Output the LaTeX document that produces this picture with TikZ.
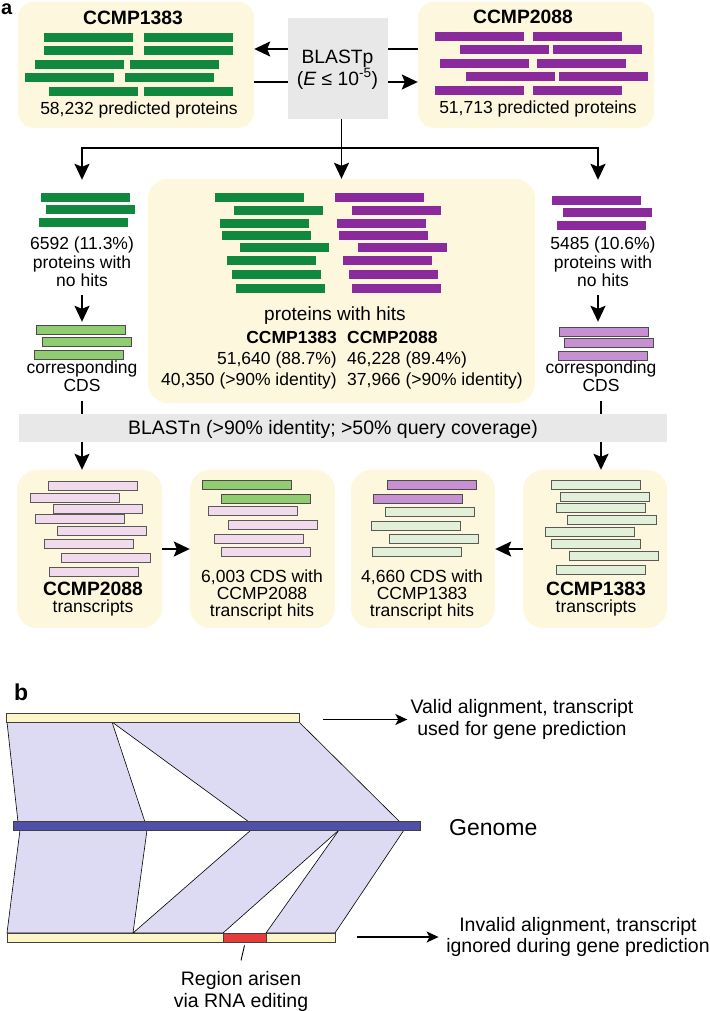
\documentclass[tikz,border=0pt]{standalone}
\usepackage{fontspec}
\setmainfont{Liberation Sans}
\usepackage{tikz}
\usetikzlibrary{positioning,arrows.meta}
\definecolor{boxyellow}{RGB}{252,247,221}
\definecolor{blastgrey}{RGB}{232,232,232}
\definecolor{protgreen}{RGB}{16,137,62}
\definecolor{protpurple}{RGB}{139,42,157}
\definecolor{cdsgreen}{RGB}{144,204,112}
\definecolor{cdspurple}{RGB}{198,144,210}
\definecolor{trpink}{RGB}{240,218,236}
\definecolor{trgreen}{RGB}{226,240,218}
\definecolor{bandlav}{RGB}{221,218,243}
\definecolor{genomeblue}{RGB}{80,80,168}
\definecolor{trbar}{RGB}{251,245,200}
\definecolor{editred}{RGB}{230,60,60}

\newcommand\txtmain{\fontsize{17.5pt}{18.5pt}\selectfont}
\newcommand\txtbig{\fontsize{19.3pt}{20pt}\selectfont}
\newcommand\txtb{\fontsize{19.5pt}{21.5pt}\selectfont}
\newcommand\txtgenome{\fontsize{23pt}{26pt}\selectfont}
\newcommand\drawbars[2]{\foreach \bx/\by in {#2} \draw[#1] (\bx,\by) rectangle ++(89,9);}

\begin{document}
\begin{tikzpicture}[x=1pt, y=-1pt, font=\txtmain,
    ybox/.style={fill=boxyellow, rounded corners=16pt, inner sep=0pt},
    gbox/.style={fill=blastgrey, inner sep=0pt},
    grp/.style={inner sep=0pt},
    lbl/.style={align=center, inner sep=0pt},
    flow/.style={line width=1.8pt, -{Stealth[length=16pt,width=15pt,inset=3pt]}},
    link/.style={line width=1.8pt},
    note/.style={line width=1.3pt, -{Stealth[length=12pt,width=11pt,inset=3pt]}},
    greenbar/.style={fill=protgreen, draw=none},
    purplebar/.style={fill=protpurple, draw=none},
    cdsgbar/.style={fill=cdsgreen, draw=black!70, line width=0.8pt},
    cdspbar/.style={fill=cdspurple, draw=black!70, line width=0.8pt},
    pinkbar/.style={fill=trpink, draw=black!65, line width=0.8pt},
    palebar/.style={fill=trgreen, draw=black!65, line width=0.8pt},
    band/.style={fill=bandlav, draw=black, line width=0.6pt},
    seqbar/.style={draw=black!75, line width=0.8pt, inner sep=0pt}]
    \useasboundingbox (0,0) rectangle (709,1011);

    % panel a
    \node[anchor=base west, inner sep=0pt, font=\fontsize{20pt}{20pt}\selectfont\bfseries] (pa) at (1,15) {a};

    \node[ybox, minimum width=236pt, minimum height=126pt] (p1383) at (136,65) {};
    \node[gbox, minimum width=100pt, minimum height=101pt] (blastp) at (338,68.5) {};
    \node[ybox, minimum width=236pt, minimum height=126pt] (p2088) at (536,65) {};
    \node[ybox, rounded corners=20pt, minimum width=387pt, minimum height=224pt] (hits) at (341.5,291) {};
    \node[gbox, minimum width=648pt, minimum height=28pt] (blastn) at (343,428) {};
    \node[ybox, rounded corners=20pt, minimum width=145pt, minimum height=158pt] (tr2088) at (89.5,549) {};
    \node[ybox, rounded corners=20pt, minimum width=145pt, minimum height=158pt] (cds2088) at (262.5,549) {};
    \node[ybox, rounded corners=20pt, minimum width=144pt, minimum height=158pt] (cds1383) at (423,549) {};
    \node[ybox, rounded corners=20pt, minimum width=144pt, minimum height=158pt] (tr1383) at (595,549) {};

    \drawbars{greenbar}{44/33,144/33,44/46,144/46,35/60,130/60,25/73,125/73,49/87,144/87}
    \drawbars{purplebar}{435/32,533/32,460/45,553/45,440/59,537/59,466/72,559/72,435/86,533/86}
    \drawbars{greenbar}{215/193,234/206,220/219,222/231,240/243,227/256,232/270,236/284}
    \drawbars{purplebar}{335/193,352/206,337/219,339/231,358/243,343/256,349/270,352/284}
    \drawbars{greenbar}{41/193,46/205,39/218}
    \drawbars{cdsgbar}{36/325,42/337,34/350}
    \drawbars{purplebar}{552/196,563/208,557/221}
    \drawbars{cdspbar}{559/327,564/338,558/351}
    \drawbars{pinkbar}{48/481,30/493,53/504,35/514,57/526,44/539,61/553,49/567}
    \drawbars{cdsgbar}{202/480,221/494}
    \drawbars{pinkbar}{208/506,228/520,214/534,221/547}
    \drawbars{cdspbar}{387/480,373/494}
    \drawbars{palebar}{385/507,371/521,389/534,372/547}
    \drawbars{palebar}{551/480,560/492,556/503,567/515,545/527,551/539,569/551,556/565}

    \node[anchor=base, inner sep=0pt, font=\txtbig\bfseries] (t1383) at (133,25) {CCMP1383};
    \node[anchor=base, inner sep=0pt] (n1383) at (139,115) {58,232 predicted proteins};
    \node[anchor=base, inner sep=0pt, font=\txtbig\bfseries] (t2088) at (523,24) {CCMP2088};
    \node[anchor=base, inner sep=0pt] (n2088) at (538,114) {51,713 predicted proteins};
    \node[lbl, font=\fontsize{19.3pt}{17pt}\selectfont] (blastptxt) at (337.5,69.5) {BLASTp\\(\textit{E} ≤ 10\textsuperscript{-5})};

    \draw[link] ([yshift=16pt]p2088.west) -- ([yshift=16pt]p2088.west -| blastp.east);
    \draw[flow] ([yshift=16pt]p1383.east -| blastp.west) -- ([yshift=16pt]p1383.east);
    \draw[link] ([yshift=-17pt]p1383.east) -- ([yshift=-17pt]p1383.east -| blastp.west);
    \draw[flow] ([yshift=-17pt]p2088.west -| blastp.east) -- ([yshift=-17pt]p2088.west);

    \coordinate (split) at (341.5,148);
    \node[grp, minimum width=100pt, minimum height=48pt] (protL) at (82,204) {};
    \node[grp, minimum width=100pt, minimum height=48pt] (protR) at (598,204) {};
    \draw[flow] (blastp.south -| split) -- (hits.north);
    \draw[flow] (split) -| (protL.north);
    \draw[flow] (split) -| (protR.north);

    \node[lbl] (noL) at (82,262) {6592 (11.3\%)\\proteins with\\no hits};
    \node[grp, minimum width=100pt, minimum height=38pt] (cdsL) at (82,341) {};
    \node[lbl] (cdsLtxt) at (82,376) {corresponding\\CDS};
    \node[lbl] (noR) at (603,262) {5485 (10.6\%)\\proteins with\\no hits};
    \node[grp, minimum width=100pt, minimum height=38pt] (cdsR) at (598,341) {};
    \node[lbl] (cdsRtxt) at (601,376) {corresponding\\CDS};

    \draw[flow] ([yshift=-8pt]noL.south) -- (cdsL.north);
    \draw[flow] ([yshift=-8pt]noR.south -| cdsR.north) -- (cdsR.north);
    \draw[link] ([yshift=-9pt]cdsLtxt.south) -- (cdsLtxt.south |- blastn.north);
    \draw[link] ([yshift=-9pt]cdsRtxt.south) -- (cdsRtxt.south |- blastn.north);
    \draw[flow] (blastn.south -| cdsLtxt.south) -- (tr2088.north -| cdsLtxt.south);
    \draw[flow] (blastn.south -| cdsRtxt.south) -- (tr1383.north -| cdsRtxt.south);

    \node[anchor=base, inner sep=0pt, font=\fontsize{19pt}{19pt}\selectfont] (hitstxt) at (335,320) {proteins with hits};
    \node[anchor=base east, inner sep=0pt, font=\txtmain\bfseries] (h1383) at (337,343) {CCMP1383};
    \node[anchor=base east, inner sep=0pt] (c1383a) at (337,364) {51,640 (88.7\%)};
    \node[anchor=base east, inner sep=0pt] (c1383b) at (337,385) {40,350 (>90\% identity)};
    \node[anchor=base west, inner sep=0pt, font=\txtmain\bfseries] (h2088) at (347,343) {CCMP2088};
    \node[anchor=base west, inner sep=0pt] (c2088a) at (347,364) {46,228 (89.4\%)};
    \node[anchor=base west, inner sep=0pt] (c2088b) at (347,385) {37,966 (>90\% identity)};

    \node[anchor=base, inner sep=0pt, font=\fontsize{19.5pt}{20pt}\selectfont] (blastntxt) at (333,434) {BLASTn (>90\% identity; >50\% query coverage)};

    \node[lbl, font=\fontsize{17.5pt}{17pt}\selectfont] (tr2088txt) at (93,599.5) {{\txtbig\bfseries CCMP2088}\\transcripts};
    \node[lbl, font=\fontsize{17.5pt}{17pt}\selectfont] (hit2088txt) at (262,594.5) {6,003 CDS with\\CCMP2088\\transcript hits};
    \node[lbl, font=\fontsize{17.5pt}{17pt}\selectfont] (hit1383txt) at (422,594.5) {4,660 CDS with\\CCMP1383\\transcript hits};
    \node[lbl, font=\fontsize{17.5pt}{17pt}\selectfont] (tr1383txt) at (596,599.5) {{\txtbig\bfseries CCMP1383}\\transcripts};

    \draw[flow] (tr2088.east) -- (cds2088.west);
    \draw[flow] (tr1383.west) -- (cds1383.east);

    % panel b
    \node[anchor=base west, inner sep=0pt, font=\fontsize{23pt}{23pt}\selectfont\bfseries] (pb) at (14,700) {b};

    \filldraw[band] (7,722) -- (112,722) -- (145,822) -- (18,822) -- cycle;
    \filldraw[band] (112,722) -- (299,722) -- (400,822) -- (249,822) -- cycle;
    \filldraw[band] (20,830) -- (147,830) -- (133,933) -- (7,933) -- cycle;
    \filldraw[band] (251,830) -- (339,830) -- (223,933) -- (133,933) -- cycle;
    \filldraw[band] (339,830) -- (404,830) -- (335,933) -- (266,933) -- cycle;

    \node[seqbar, fill=trbar, minimum width=293pt, minimum height=9pt] (trtop) at (152.5,717.5) {};
    \node[seqbar, fill=genomeblue, minimum width=407pt, minimum height=8.5pt] (genome) at (216.5,826) {};
    \node[seqbar, fill=trbar, minimum width=328pt, minimum height=9pt] (trbot) at (171,937.5) {};
    \node[seqbar, fill=editred, minimum width=43pt, minimum height=9pt] (edit) at (244.5,937.5) {};

    \node[lbl, font=\txtb] (valid) at (522,719.5) {Valid alignment, transcript\\used for gene prediction};
    \node[anchor=base west, inner sep=0pt, font=\txtgenome] (genlbl) at (449,835) {Genome};
    \node[lbl, font=\txtb] (invalid) at (578,937) {Invalid alignment, transcript\\ignored during gene prediction};
    \node[lbl, font=\txtb] (region) at (241,991.5) {Region arisen\\via RNA editing};

    \draw[note] ([xshift=-87pt]valid.west) -- ([xshift=-3pt]valid.west);
    \draw[note] ([xshift=-89.5pt]invalid.west) -- ([xshift=-7.5pt]invalid.west);
    \draw[line width=0.9pt] ([yshift=-3pt]edit.south) -- ([yshift=11pt]region.north);
\end{tikzpicture}
\end{document}
